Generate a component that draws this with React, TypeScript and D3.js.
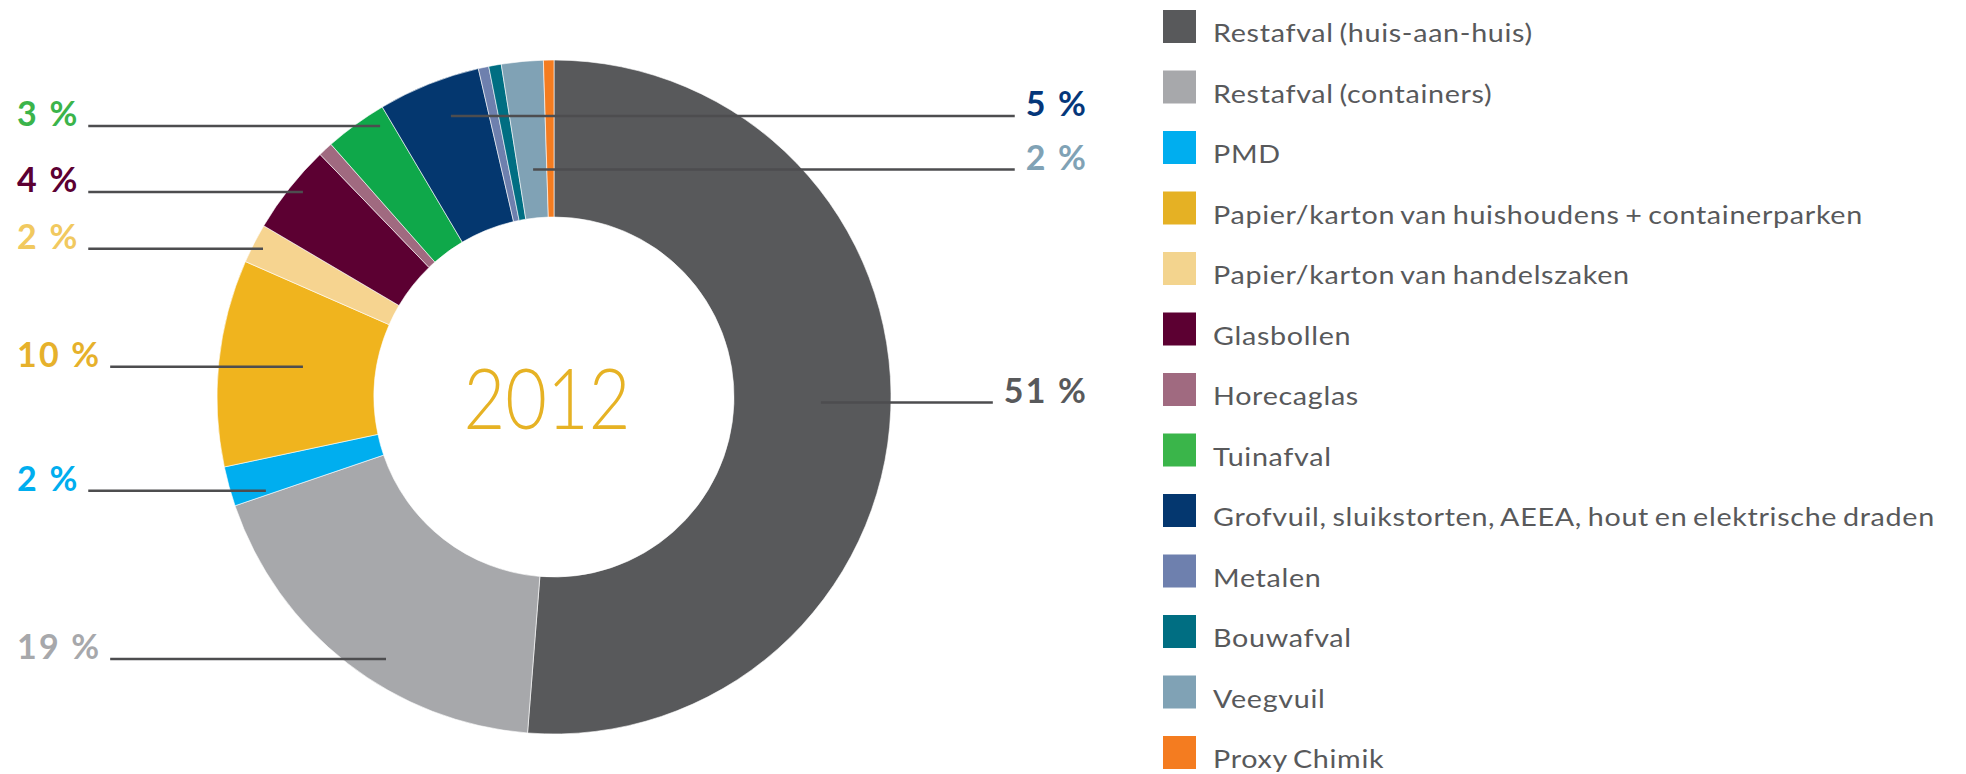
import React, { useEffect, useRef } from "react";
import * as d3 from "d3";

// ---- data ----
const categories = [
  "Restafval (huis-aan-huis)",
  "Restafval (containers)",
  "PMD",
  "Papier/karton van huishoudens + containerparken",
  "Papier/karton van handelszaken",
  "Glasbollen",
  "Horecaglas",
  "Tuinafval",
  "Grofvuil, sluikstorten, AEEA, hout en elektrische draden",
  "Metalen",
  "Bouwafval",
  "Veegvuil",
  "Proxy Chimik",
];
const shares = [51.2, 18.5, 1.9, 9.9, 1.9, 4.3, 0.7, 3.0, 4.9, 0.5, 0.6, 2.0, 0.5];
const yearLabel = "2012";
// which slices carry a percentage label
const labelledSlices = [0, 1, 2, 3, 4, 5, 7, 8, 11];

// ---- styles ----
const sliceColors = [
  "#58595b", "#a7a8ab", "#00aeef", "#f0b41e", "#f6d490", "#5c0032",
  "#a06a80", "#0fa84a", "#04376f", "#6e80ae", "#006e82", "#80a2b5", "#f47c20",
];
const legendColors = [
  "#58595b", "#a7a8ab", "#00aeef", "#e5b124", "#f3d48e", "#5c0032",
  "#a06a80", "#3ab54a", "#04376f", "#6e80ae", "#006e82", "#80a2b5", "#f47c20",
];
const labelColors: Record<number, string> = {
  0: "#58595b", 1: "#a7a8ab", 2: "#00aeef", 3: "#e6b12b", 4: "#f1c95f",
  5: "#5c0032", 7: "#3bb44a", 8: "#05377a", 11: "#80a2b5",
};

// ---- annotation layout (label baseline y, side, leader anchor x relative to radius) ----
const labelLayout: Record<number, { side: "left" | "right"; y: number; fx: number }> = {
  0: { side: "right", y: 402.5, fx: 0.792 },
  1: { side: "left", y: 659, fx: -0.4985 },
  2: { side: "left", y: 490.7, fx: -0.855 },
  3: { side: "left", y: 366.7, fx: -0.745 },
  4: { side: "left", y: 248.7, fx: -0.8635 },
  5: { side: "left", y: 192, fx: -0.745 },
  7: { side: "left", y: 126, fx: -0.516 },
  8: { side: "right", y: 116, fx: -0.306 },
  11: { side: "right", y: 169.5, fx: -0.062 },
};

const W = 1966;
const H = 774;
const CX = 554;
const CY = 397;
const R_OUT = 337;
const R_IN = 180;
const LEGEND_X = 1213;
// target widths of the two longest legend entries in the reference
const TARGET_PAPIER = 683;
const TARGET_GROF = 722;

export default function App() {
  const ref = useRef<SVGSVGElement | null>(null);

  useEffect(() => {
    const svg = d3.select(ref.current);
    svg.selectAll("*").remove();

    const pie = d3
      .pie<number>()
      .sort(null)
      .value((d) => d)
      .startAngle(0)
      .endAngle(2 * Math.PI);
    const arcs = pie(shares);
    const arc = d3.arc<d3.PieArcDatum<number>>().innerRadius(R_IN).outerRadius(R_OUT);

    const g = svg.append("g").attr("transform", `translate(${CX},${CY})`);
    g.selectAll("path")
      .data(arcs)
      .join("path")
      .attr("d", arc)
      .attr("fill", (_, i) => sliceColors[i])
      .attr("stroke", "#ffffff")
      .attr("stroke-width", 0.6);

    // centre year
    svg
      .append("text")
      .attr("x", 547 - 83.5)
      .attr("y", 428.5)
      .attr("textLength", 167)
      .attr("lengthAdjust", "spacingAndGlyphs")
      .attr("font-family", "Lato, 'Open Sans', sans-serif")
      .attr("font-weight", 300)
      .attr("font-size", 84)
      .attr("fill", "#e6b224")
      .text(yearLabel);

    // labels + leader lines
    const labelG = svg.append("g");
    const lineG = svg.append("g");
    const LS = 2.2;
    labelledSlices.forEach((i) => {
      const lay = labelLayout[i];
      const txt = `${Math.round(shares[i])} %`;
      const t = labelG
        .append("text")
        .attr("y", lay.y)
        .attr("font-family", "Lato, 'Open Sans', sans-serif")
        .attr("font-weight", 700)
        .attr("font-size", 34)
        .attr("letter-spacing", LS)
        .attr("fill", labelColors[i])
        .text(txt);
      const anchorX = CX + lay.fx * R_OUT;
      let x1: number, x2: number;
      const w = (t.node() as SVGTextElement).getComputedTextLength() - LS;
      if (lay.side === "left") {
        t.attr("x", 17);
        x1 = 17 + w + 11;
        x2 = anchorX;
      } else {
        t.attr("x", 1086 - w);
        x1 = anchorX;
        x2 = 1086 - w - 11;
      }
      lineG
        .append("line")
        .attr("x1", x1)
        .attr("x2", x2)
        .attr("y1", lay.y)
        .attr("y2", lay.y)
        .attr("stroke", "#4d4d4f")
        .attr("stroke-width", 2.4);
    });

    // legend
    const leg = svg.append("g");
    const texts: any[] = [];
    categories.forEach((c, i) => {
      const top = 10 + i * 60.5;
      leg
        .append("rect")
        .attr("x", 1163)
        .attr("y", top)
        .attr("width", 33)
        .attr("height", 33)
        .attr("fill", legendColors[i]);
      const t = leg
        .append("text")
        .attr("x", 0)
        .attr("y", 0)
        .attr("transform", `translate(${LEGEND_X},${top + 32})`)
        .attr("font-family", "Lato, 'Open Sans', sans-serif")
        .attr("font-size", 25)
        .attr("letter-spacing", 0.6)
        .attr("word-spacing", -2)
        .attr("fill", "#58595b")
        .text(c);
      texts.push(t);
    });
    const wP = (texts[3].node() as SVGTextElement).getComputedTextLength();
    const wG = (texts[8].node() as SVGTextElement).getComputedTextLength();
    const s = Math.min((TARGET_PAPIER + TARGET_GROF) / (wP + wG), TARGET_GROF / wG);
    texts.forEach((t, i) => {
      const top = 10 + i * 60.5;
      t.attr("transform", `translate(${LEGEND_X},${top + 32}) scale(${s},1)`);
    });
  }, []);

  return (
    <svg
      ref={ref}
      width={W}
      height={H}
      style={{ position: "absolute", left: 0, top: 0, background: "#ffffff" }}
    />
  );
}
